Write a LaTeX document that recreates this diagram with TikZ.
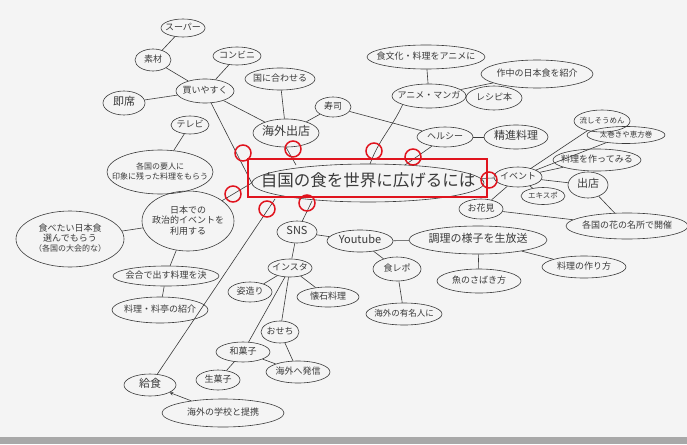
\documentclass[tikz,border=0pt]{standalone}
\usepackage{fontspec}
\setmainfont{Noto Sans CJK JP}
\usetikzlibrary{shapes.geometric}
\definecolor{ink}{HTML}{3A3A3A}
\definecolor{redm}{HTML}{E0141E}
\definecolor{paper}{HTML}{F4F4F4}
\definecolor{edge}{HTML}{A8A8A8}
\newcommand\T[1]{\makebox[0pt]{\begin{tabular}{@{}c@{}}#1\end{tabular}}}
\renewcommand\arraystretch{0.95}
\tikzset{
  bub/.style={ellipse, draw=ink, line width=0.6pt, inner sep=0pt,
    text height=5pt, text depth=0pt, text=ink, font=\fontsize{9}{10}\selectfont},
  sz/.style 2 args={minimum width=#1, minimum height=#2},
  ln/.style={draw=ink, line width=0.6pt},
  redc/.style={circle, draw=redm, line width=1.5pt, minimum size=16pt, inner sep=0pt},
  big/.style={font=\fontsize{11}{12}\selectfont},
  small/.style={font=\fontsize{7.5}{8}\selectfont},
}
\begin{document}
\begin{tikzpicture}[x=1pt, y=-1pt]
\fill[paper] (0,0) rectangle (687,444);
\fill[edge] (0,437) rectangle (687,444);
\path[use as bounding box] (0,0) rectangle (687,444);

% nodes
\node[bub, sz={44}{18}] (super) at (183,28) {\T{スーパー}};
\node[bub, sz={36}{22}] (sozai) at (153,60) {\T{素材}};
\node[bub, sz={48}{18}] (conv) at (237,56) {\T{コンビニ}};
\node[bub, sz={42}{24}, big] (sokuseki) at (124,103) {\T{即席}};
\node[bub, sz={58}{24}] (buy) at (205,91) {\T{買いやすく}};
\node[bub, sz={70}{22}] (kuni) at (280,79) {\T{国に合わせる}};
\node[bub, sz={38}{18}] (tv) at (190,125) {\T{テレビ}};
\node[bub, sz={66}{28}, font=\fontsize{12}{13}\selectfont] (shop) at (286,133) {\T{海外出店}};
\node[bub, sz={36}{20}] (sushi) at (333,107) {\T{寿司}};
\node[bub, sz={118}{24}] (anime1) at (426,57) {\T{食文化・料理をアニメに}};
\node[bub, sz={74}{24}] (anime) at (429,96) {\T{アニメ・マンガ}};
\node[bub, sz={112}{28}] (sakuchu) at (537,74) {\T{作中の日本食を紹介}};
\node[bub, sz={56}{24}] (recipe) at (494,98) {\T{レシピ本}};
\node[bub, sz={56}{20}] (healthy) at (445,137) {\T{ヘルシー}};
\node[bub, sz={64}{24}, big] (shojin) at (516,137) {\T{精進料理}};
\node[bub, sz={56}{22}, small] (nagashi) at (602,121) {\T{流しそうめん}};
\node[bub, sz={78}{17}, small] (ehou) at (626,135) {\T{太巻きや恵方巻}};
\node[bub, sz={88}{22}] (tsukuru) at (597,160) {\T{料理を作ってみる}};
\node[bub, sz={48}{20}] (event) at (518,177) {\T{イベント}};
\node[bub, sz={40}{26}, big] (demise) at (588,185) {\T{出店}};
\node[bub, sz={44}{17}, small] (expo) at (543,196) {\T{エキスポ}};
\node[bub, sz={44}{20}] (hanami) at (481,209) {\T{お花見}};
\node[bub, sz={122}{26}] (meisho) at (627,226) {\T{各国の花の名所で開催}};
\node[bub, sz={232}{38}, font=\fontsize{16.5}{17}\selectfont, text height=6.5pt] (main) at (368,183) {\T{自国の食を世界に広げるには}};
\node[bub, sz={106}{44}, font=\fontsize{8}{9}\selectfont] (youjin) at (160,172) {\T{各国の要人に\\印象に残った料理をもらう}};
\node[bub, sz={92}{60}] (seiji) at (188,221) {\T{日本での\\政治的イベントを\\利用する}};
\node[bub, sz={108}{56}] (tabetai) at (70,239) {\T{食べたい日本食\\選んでもらう\\{\fontsize{8}{9}\selectfont（各国の大会的な）}}};
\node[bub, sz={106}{20}] (kaigou) at (166,276) {\T{会合で出す料理を決}};
\node[bub, sz={96}{26}] (ryotei) at (160,310) {\T{料理・料亭の紹介}};
\node[bub, sz={40}{22}, big] (sns) at (297,232) {\T{SNS}};
\node[bub, sz={66}{22}, big] (youtube) at (360,241) {\T{Youtube}};
\node[bub, sz={138}{28}, big] (live) at (478,240) {\T{調理の様子を生放送}};
\node[bub, sz={44}{18}] (insta) at (290,268) {\T{インスタ}};
\node[bub, sz={48}{24}] (repo) at (397,269) {\T{食レポ}};
\node[bub, sz={84}{24}] (sakana) at (479,281) {\T{魚のさばき方}};
\node[bub, sz={84}{22}] (tsukurikata) at (584,267) {\T{料理の作り方}};
\node[bub, sz={76}{22}, font=\fontsize{8.5}{9}\selectfont] (yumei) at (404,314) {\T{海外の有名人に}};
\node[bub, sz={44}{20}] (sugata) at (250,292) {\T{姿造り}};
\node[bub, sz={62}{20}] (kaiseki) at (328,297) {\T{懐石料理}};
\node[bub, sz={38}{22}] (osechi) at (280,332) {\T{おせち}};
\node[bub, sz={54}{20}] (wagashi) at (243,352) {\T{和菓子}};
\node[bub, sz={44}{20}] (namagashi) at (218,380) {\T{生菓子}};
\node[bub, sz={64}{22}] (hasshin) at (298,372) {\T{海外へ発信}};
\node[bub, sz={52}{22}, big] (kyushoku) at (150,385) {\T{給食}};
\node[bub, sz={122}{28}] (teikei) at (223,413) {\T{海外の学校と提携}};

% attach points on the central ellipse
\coordinate (mshop) at (296,165);
\coordinate (manime) at (370,164);
\coordinate (mhealthy) at (405,165);
\coordinate (mschool) at (275,199);
\coordinate (msns) at (312,201);

% connectors
\draw[ln] (super) -- (sozai);
\draw[ln] (sozai) -- (buy);
\draw[ln] (sokuseki) -- (buy);
\draw[ln] (conv) -- (buy);
\draw[ln] (buy) -- (shop);
\draw[ln] (buy) -- (main.west);
\draw[ln] (kuni) -- (shop);
\draw[ln] (shop.south) -- (mshop);
\draw[ln] (shop) -- (sushi);
\draw[ln] (sushi) -- (healthy);
\draw[ln] (anime1) -- (anime);
\draw[ln] (anime) -- (sakuchu);
\draw[ln] (anime) -- (recipe);
\draw[ln] (anime.south west) to[out=-115, in=70] (manime);
\draw[ln] (healthy) -- (shojin);
\draw[ln] (healthy) -- (mhealthy);
\draw[ln] (event) -- (main);
\draw[ln] (event) -- (nagashi);
\draw[ln] (event) -- (ehou);
\draw[ln] (event) -- (tsukuru);
\draw[ln] (event) -- (demise);
\draw[ln] (event) -- (expo);
\draw[ln] (event) -- (hanami);
\draw[ln] (demise) -- (meisho);
\draw[ln] (hanami) -- (meisho);
\draw[ln] (tv) -- (youjin);
\draw[ln] (youjin) -- (seiji);
\draw[ln] (seiji) -- (main.west);
\draw[ln] (seiji) -- (tabetai);
\draw[ln] (seiji) -- (kaigou);
\draw[ln] (kaigou) -- (ryotei);
\draw[ln] (kyushoku) -- (mschool);
\draw[ln, ->, >=stealth] (teikei) -- (kyushoku);
\draw[ln] (sns) -- (msns);
\draw[ln] (sns) -- (youtube);
\draw[ln] (sns) -- (insta);
\draw[ln] (youtube) -- (live);
\draw[ln] (youtube) -- (repo);
\draw[ln] (repo) -- (yumei);
\draw[ln] (live) -- (sakana);
\draw[ln] (live) -- (tsukurikata);
\draw[ln] (insta) -- (sugata);
\draw[ln] (insta) -- (kaiseki);
\draw[ln] (insta) -- (osechi);
\draw[ln] (insta) -- (wagashi);
\draw[ln] (osechi) -- (hasshin);
\draw[ln] (wagashi) -- (hasshin);
\draw[ln] (wagashi) -- (namagashi);

% red annotations
\node[draw=redm, line width=1.8pt, minimum width=239, minimum height=38, inner sep=0pt] (frame) at (367.5,178) {};
\node[redc] (r1) at (243,153) {};
\node[redc] (r2) at (293,149) {};
\node[redc] (r3) at (374,151) {};
\node[redc] (r4) at (413,157) {};
\node[redc] (r5) at (489,180) {};
\node[redc] (r6) at (233,194) {};
\node[redc] (r7) at (267,209) {};
\node[redc] (r8) at (307,203) {};
\end{tikzpicture}
\end{document}
